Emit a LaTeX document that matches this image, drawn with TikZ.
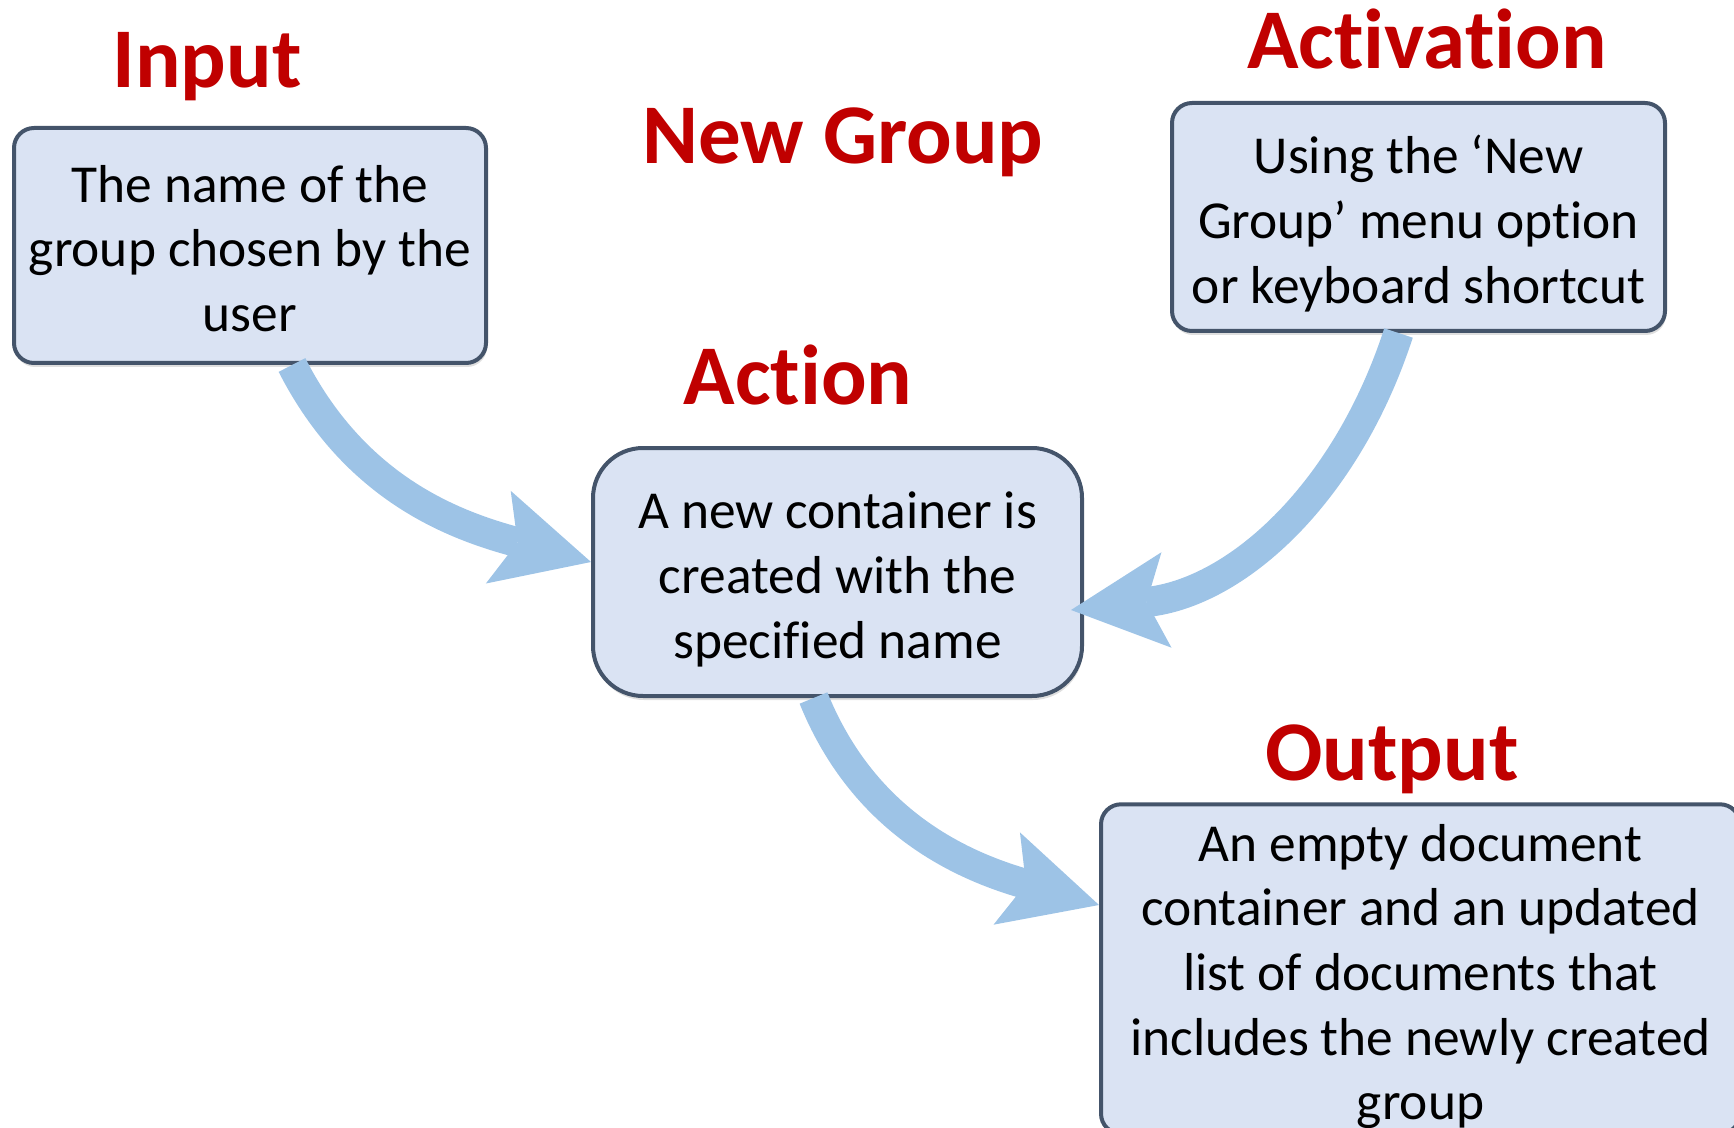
\documentclass[tikz,border=0pt]{standalone}
\usepackage{fontspec}
\setmainfont[Ligatures=NoCommon]{Carlito}
\usetikzlibrary{arrows.meta,positioning,shadows}
\definecolor{titlered}{HTML}{C00000}
\definecolor{boxfill}{HTML}{DAE3F3}
\definecolor{boxline}{HTML}{44546A}
\definecolor{flowblue}{HTML}{9DC3E6}
\newcommand{\topline}{\rule{0pt}{28.5pt}}
\newcommand{\botline}{\rule[-7pt]{0pt}{7pt}}

\begin{document}
\begin{tikzpicture}[x=0.5pt, y=0.5pt,
    infobox/.style={draw=boxline, line width=2pt, fill=boxfill, rounded corners=10pt, align=center, inner sep=0pt,
      font=\fontsize{26.7}{32.3}\selectfont, drop shadow={shadow xshift=0.5pt, shadow yshift=-2pt, opacity=0.25}},
    heading/.style={text=titlered, font=\fontsize{42.5}{50}\selectfont\bfseries, inner sep=0pt, anchor=base},
    flow/.style={draw=flowblue, line width=15pt, -{Stealth[length=48pt, width=48pt, inset=10pt, line width=0pt]}}
]
\clip (0,0) rectangle (1734,-1128);
\node[infobox, minimum width=236pt, minimum height=117.5pt] (input) at (250,-245.5) {\topline The name of the\\group chosen by the\\user\botline};
\node[infobox, minimum width=246.5pt, minimum height=114pt] (activation) at (1418.5,-217) {\topline Using the ‘New\\Group’ menu option\\or keyboard shortcut\botline};
\node[infobox, rounded corners=25pt, minimum width=244.5pt, minimum height=124pt] (action) at (837.5,-572) {\topline A new container is\\created with the\\specified name\botline};
\node[infobox, minimum width=319.5pt, minimum height=162pt] (output) at (1420.5,-969) {\topline An empty document\\container and an updated\\list of documents that\\includes the newly created\\group\botline};
\node[heading] (inputtitle) at (207,-88) {Input};
\node[heading] (grouptitle) at (843,-164) {New Group};
\node[heading] (activationtitle) at (1427,-69) {Activation};
\node[heading] (actiontitle) at (798,-405) {Action};
\node[heading] (outputtitle) at (1392,-780) {Output};
\draw[flow] ([xshift=21pt]input.south) to[out=-63, in=165] ([yshift=5pt]action.west);
\draw[flow] ([xshift=-10pt]activation.south) to[out=-108, in=6] ([xshift=-6.5pt, yshift=-19pt]action.east);
\draw[flow] ([xshift=-12pt]action.south) to[out=-68, in=164] ([yshift=32pt]output.west);
\end{tikzpicture}
\end{document}
